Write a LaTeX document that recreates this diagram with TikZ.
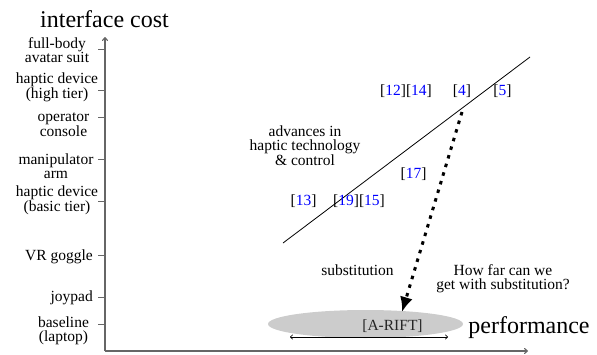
\documentclass[tikz,border=0pt]{standalone}
\usepackage{fontspec}
\setmainfont{Liberation Serif}
\usetikzlibrary{arrows.meta,shapes.geometric}
\begin{document}
\begin{tikzpicture}[x=1pt,y=-1pt,
  lbl/.style={font=\fontsize{15.5}{14}\selectfont, align=center, inner sep=0pt},
  axlbl/.style={font=\fontsize{24}{26}\selectfont, inner sep=0pt},
  axisline/.style={draw=black!60, line width=1.1pt},
  tickmark/.style={draw=black!60, line width=0.9pt},
  cite/.style={lbl},
]
\useasboundingbox (0,0) rectangle (597,354);

% axes
\coordinate (O) at (105,351);
\coordinate (xend) at (528,351);
\coordinate (ytop) at (105,37);
\draw[axisline,-{To[length=4pt,width=6pt]}] (O) -- (xend);
\draw[axisline,-{To[length=4pt,width=6pt]}] (O) -- (ytop);
\node[axlbl, anchor=base] (ylab) at (104.5,27) {interface cost};
\node[axlbl, anchor=base] (xlab) at (529,333) {performance};

% ticks on the cost axis
\foreach \n/\y in {t1/49, t2/90, t3/117, t4/159, t5/201, t6/255, t7/297, t8/324}{
  \coordinate (\n) at (105,\y);
  \coordinate (\n l) at (98,\y);
  \draw[tickmark] (\n) -- (\n l);
}

% tick labels
\node[lbl] (l1) at (57,50) {full-body\\avatar suit};
\node[lbl] (l2) at (57,87) {haptic device\\(high tier)};
\node[lbl] (l3) at (63.5,125) {operator\\console};
\node[lbl] (l4) at (56,166) {manipulator\\arm};
\node[lbl] (l5) at (57,200) {haptic device\\(basic tier)};
\node[lbl, anchor=base east] (l6) at (93,260) {VR goggle};
\node[lbl, anchor=base east] (l7) at (93,301) {joypad};
\node[lbl] (l8) at (63.5,331) {baseline\\(laptop)};

% trend line
\coordinate (la) at (283,243);
\coordinate (lb) at (530,57);
\draw[line width=0.8pt] (la) -- (lb);
\node[lbl] (adv) at (305,146) {advances in\\haptic technology\\\& control};

% citations
\node[cite, anchor=base] (c1) at (406,95) {[\textcolor{blue}{12}][\textcolor{blue}{14}]};
\node[cite, anchor=base] (c2) at (462,95) {[\textcolor{blue}{4}]};
\node[cite, anchor=base] (c3) at (502.5,95) {[\textcolor{blue}{5}]};
\node[cite, anchor=base] (c4) at (413.5,178) {[\textcolor{blue}{17}]};
\node[cite, anchor=base] (c5) at (303.5,205) {[\textcolor{blue}{13}]};
\node[cite, anchor=base] (c6) at (359,205) {[\textcolor{blue}{19}][\textcolor{blue}{15}]};

% substitution region
\node[ellipse, fill=black!20, minimum width=195pt, minimum height=28pt, inner sep=0pt] (ell) at (365.5,324) {};
\node[lbl, text=black!85] (arift) at (392.5,326) {[A-RIFT]};
\coordinate (ra) at (290,337);
\coordinate (rb) at (448,337);
\draw[line width=0.6pt, {To[length=3pt,width=5pt]}-{To[length=3pt,width=5pt]}] (ra) -- (rb);

% substitution arrow
\coordinate (ds) at (462,112);
\coordinate (de) at (402,312);
\draw[line width=3pt, dash pattern=on 3.5pt off 5.5pt,
  -{Latex[length=15pt,width=13pt]}] (ds) -- (de);
\node[lbl] (subst) at (357.5,270) {substitution};
\node[lbl] (q) at (503,279) {How far can we\\get with substitution?};
\end{tikzpicture}
\end{document}
